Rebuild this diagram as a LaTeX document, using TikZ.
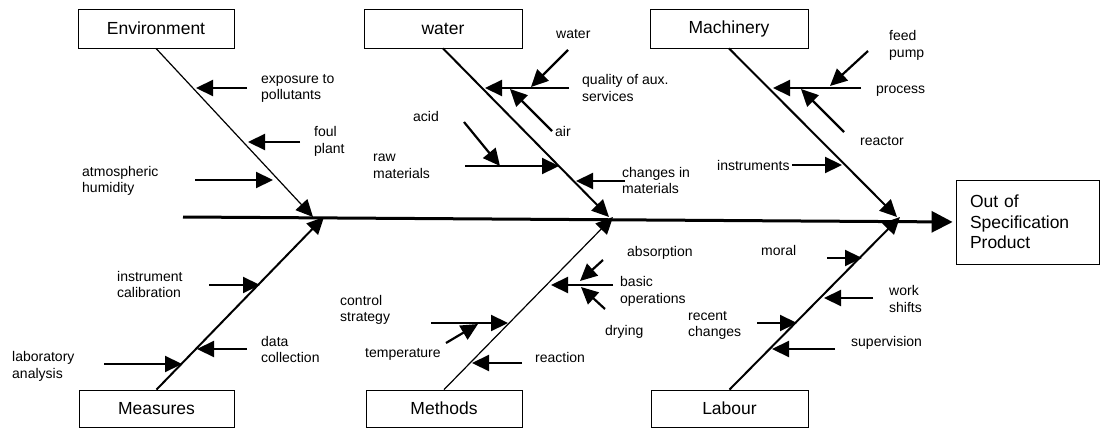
\documentclass[tikz,border=0pt]{standalone}
\usepackage{fontspec}
\setmainfont{Liberation Sans}
\usetikzlibrary{arrows.meta}
\begin{document}
\begin{tikzpicture}[x=1pt,y=-1pt,
  box/.style={draw, line width=0.8pt, inner sep=0pt, font=\fontsize{17.5}{20.5}\selectfont},
  lbl/.style={anchor=west, inner sep=0pt, align=left, font=\fontsize{14}{16.5}\selectfont},
  cause/.style={line width=2.2pt, -{Triangle[length=17pt,width=16pt]}},
  bone/.style={line width=2pt, -{Triangle[length=17pt,width=16pt]}},
  thinbone/.style={line width=1.2pt, -{Triangle[length=17pt,width=16pt]}},
  spine/.style={line width=3pt, -{Triangle[length=21pt,width=21pt]}, shorten >=3pt}]
\useasboundingbox (0,0) rectangle (1101,428);
\fill[white] (0,0) rectangle (1101,428);

% category boxes
\node[box, minimum width=156pt, minimum height=39pt] (env) at (156,28.5) {Environment};
\node[box, minimum width=158pt, minimum height=39pt] (wat) at (443,28.5) {water};
\node[box, minimum width=158pt, minimum height=39pt] (mac) at (729,28.5) {Machinery};
\node[box, minimum width=155pt, minimum height=37pt] (mea) at (156.5,408.5) {Measures};
\node[box, minimum width=156pt, minimum height=37pt] (met) at (444,408.5) {Methods};
\node[box, minimum width=157pt, minimum height=37pt] (lab) at (729.5,408.5) {Labour};
\node[box, minimum width=143pt, minimum height=84pt, inner xsep=14pt, text width=115pt, align=left] (out) at (1027.5,222) {Out of\\Specification\\Product};

% spine
\coordinate (sp) at (183,217);
\draw[spine] (sp) -- (out.west);

% bones
\coordinate (envtip) at (313,217);
\coordinate (wattip) at (609,217);
\coordinate (mactip) at (897,217);
\coordinate (meatip) at (324,217);
\coordinate (mettip) at (613,217);
\coordinate (labtip) at (900,217);
\draw[thinbone] (env.south) -- (envtip);
\draw[bone] (wat.south) -- (wattip);
\draw[bone] (mac.south) -- (mactip);
\draw[bone] (mea.north) -- (meatip);
\draw[thinbone] (met.north) -- (mettip);
\draw[bone] (lab.north) -- (labtip);

% Environment causes
\node[lbl] (le1) at (261,88.5) {exposure to\\pollutants};
\node[lbl] (le2) at (314,141.5) {foul\\plant};
\node[lbl] (le3) at (82,181) {atmospheric\\humidity};
\coordinate (e1s) at (247,88);  \coordinate (e1e) at (196,88);
\coordinate (e2s) at (300,142); \coordinate (e2e) at (248,142);
\coordinate (e3s) at (195,180); \coordinate (e3e) at (273,180);
\draw[cause] (e1s) -- (e1e);
\draw[cause] (e2s) -- (e2e);
\draw[cause] (e3s) -- (e3e);

% water causes
\node[lbl] (lw1) at (582,88) {quality of aux.\\services};
\node[lbl] (lw2) at (556,34) {water};
\node[lbl] (lw3) at (555,131) {air};
\node[lbl] (lw4) at (373,166.5) {raw\\materials};
\node[lbl] (lw5) at (413,116) {acid};
\node[lbl] (lw6) at (622,180.5) {changes in\\materials};
\coordinate (w1s) at (569,88);  \coordinate (w1e) at (485,88);
\coordinate (w2s) at (568,50);  \coordinate (w2e) at (531,87);
\coordinate (w3s) at (552,131); \coordinate (w3e) at (510,89);
\coordinate (w4s) at (465,166); \coordinate (w4e) at (559,166);
\coordinate (w5s) at (464,122); \coordinate (w5e) at (500,166);
\coordinate (w6s) at (625,181); \coordinate (w6e) at (576,181);
\draw[cause] (w1s) -- (w1e);
\draw[cause] (w2s) -- (w2e);
\draw[cause] (w3s) -- (w3e);
\draw[cause] (w4s) -- (w4e);
\draw[cause] (w5s) -- (w5e);
\draw[cause] (w6s) -- (w6e);

% Machinery causes
\node[lbl] (lm1) at (876,91) {process};
\node[lbl] (lm2) at (889,45.5) {feed\\pump};
\node[lbl] (lm3) at (860,141) {reactor};
\node[lbl] (lm4) at (717,165) {instruments};
\coordinate (m1s) at (861,88);  \coordinate (m1e) at (773,88);
\coordinate (m2s) at (868,51);  \coordinate (m2e) at (830,86);
\coordinate (m3s) at (844,132); \coordinate (m3e) at (801,89);
\coordinate (m4e) at (842,165);
\draw[cause] (m1s) -- (m1e);
\draw[cause] (m2s) -- (m2e);
\draw[cause] (m3s) -- (m3e);
\draw[cause] (lm4.east) ++(2,0) -- (m4e);

% Measures causes
\node[lbl] (ls1) at (117,284.5) {instrument\\calibration};
\node[lbl] (ls2) at (261,349.5) {data\\collection};
\node[lbl] (ls3) at (12,366.5) {laboratory\\analysis};
\coordinate (s1s) at (209,285); \coordinate (s1e) at (260,285);
\coordinate (s2s) at (247,349); \coordinate (s2e) at (197,349);
\coordinate (s3s) at (104,364); \coordinate (s3e) at (182,364);
\draw[cause] (s1s) -- (s1e);
\draw[cause] (s2s) -- (s2e);
\draw[cause] (s3s) -- (s3e);

% Methods causes
\node[lbl] (lt1) at (620,291.5) {basic\\operations};
\node[lbl] (lt2) at (627,253) {absorption};
\node[lbl] (lt3) at (605,332) {drying};
\node[lbl] (lt4) at (340,310) {control\\strategy};
\node[lbl] (lt5) at (365,354) {temperature};
\node[lbl] (lt6) at (535,357) {reaction};
\coordinate (t1s) at (613,285); \coordinate (t1e) at (551,285);
\coordinate (t2s) at (603,260); \coordinate (t2e) at (580,281);
\coordinate (t3s) at (605,309); \coordinate (t3e) at (581,287);
\coordinate (t4s) at (431,323); \coordinate (t4e) at (508,323);
\coordinate (t5s) at (446,343); \coordinate (t5e) at (478,324);
\coordinate (t6s) at (522,363); \coordinate (t6e) at (472,363);
\draw[cause] (t1s) -- (t1e);
\draw[cause] (t2s) -- (t2e);
\draw[cause] (t3s) -- (t3e);
\draw[cause] (t4s) -- (t4e);
\draw[cause] (t5s) -- (t5e);
\draw[cause] (t6s) -- (t6e);

% Labour causes
\node[lbl] (lb1) at (761,250) {moral};
\node[lbl] (lb2) at (889,299) {work\\shifts};
\node[lbl] (lb3) at (688,325.5) {recent\\changes};
\node[lbl] (lb4) at (851,343) {supervision};
\coordinate (b1s) at (827,258); \coordinate (b1e) at (862,258);
\coordinate (b2s) at (873,298); \coordinate (b2e) at (824,298);
\coordinate (b3s) at (757,323); \coordinate (b3e) at (797,323);
\coordinate (b4s) at (835,349); \coordinate (b4e) at (772,349);
\draw[cause] (b1s) -- (b1e);
\draw[cause] (b2s) -- (b2e);
\draw[cause] (b3s) -- (b3e);
\draw[cause] (b4s) -- (b4e);
\end{tikzpicture}
\end{document}
